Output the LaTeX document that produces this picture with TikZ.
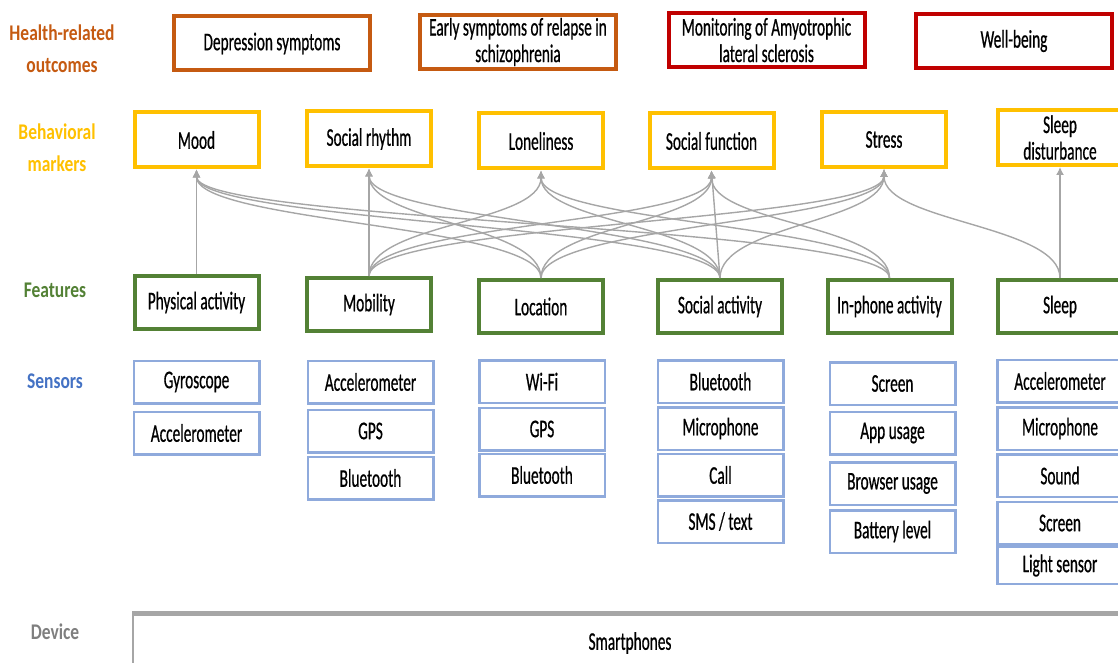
\documentclass[tikz,border=0pt]{standalone}
\usepackage{fontspec}
\usetikzlibrary{arrows.meta}
\newfontfamily\boxfont[FakeStretch=0.6,FakeBold=0.6]{Carlito}
\newfontfamily\tagfont[FakeStretch=0.78]{Carlito}
\definecolor{outorange}{HTML}{C55A11}
\definecolor{outred}{HTML}{C00000}
\definecolor{markgold}{HTML}{FFC000}
\definecolor{featgreen}{HTML}{538135}
\definecolor{sensblue}{HTML}{8FAADC}
\definecolor{senstext}{HTML}{4472C4}
\definecolor{devgray}{HTML}{A6A6A6}
\definecolor{devtext}{HTML}{7F7F7F}
\definecolor{linkgray}{HTML}{A6A6A6}
\tikzset{
 plainbox/.style={draw, inner sep=0pt, align=center, font=\boxfont\fontsize{12.75}{13.25}\selectfont},
 outbox/.style={plainbox, line width=2pt, minimum width=98pt, minimum height=27pt},
 markbox/.style={plainbox, draw=markgold, line width=2pt, minimum width=62pt, minimum height=27.5pt},
 featbox/.style={plainbox, draw=featgreen, line width=2pt, minimum width=62pt, minimum height=26.5pt},
 sensbox/.style={plainbox, draw=sensblue, line width=1.25pt, minimum width=62.75pt, minimum height=21.25pt},
 rowtag/.style={font=\tagfont\bfseries\fontsize{11.2}{16}\selectfont, align=center},
 link/.style={draw=linkgray, line width=0.7pt, -{Latex[length=4pt,width=4pt]}},
}
\begin{document}
\begin{tikzpicture}[x=0.5pt,y=-0.5pt]
 \useasboundingbox (0,0) rectangle (1118,663);
 % row labels
 \node[rowtag, text=outorange] (tagout) at (62,49) {Health-related\\outcomes};
 \node[rowtag, text=markgold] (tagmark) at (57,148) {Behavioral\\markers};
 \node[rowtag, text=featgreen] (tagfeat) at (55,290) {Features};
 \node[rowtag, text=senstext] (tagsens) at (55,381) {Sensors};
 \node[rowtag, text=devtext] (tagdev) at (55,632) {Device};
 % health-related outcomes
 \node[outbox, draw=outorange] (dep) at (272,43.5) {Depression symptoms};
 \node[outbox, draw=outorange] (relapse) at (518,42) {Early symptoms of relapse in\\schizophrenia};
 \node[outbox, draw=outred] (als) at (766.5,40) {Monitoring of Amyotrophic\\lateral sclerosis};
 \node[outbox, draw=outred] (wellb) at (1014,41) {Well-being};
 % behavioral markers
 \node[markbox] (mood) at (196.5,140) {Mood};
 \node[markbox] (rhythm) at (369,139) {Social rhythm};
 \node[markbox] (lonely) at (541,141) {Loneliness};
 \node[markbox] (sfunc) at (711.5,141) {Social function};
 \node[markbox] (stress) at (884,139.5) {Stress};
 \node[markbox] (sdist) at (1060,137.5) {Sleep\\disturbance};
 % features
 \node[featbox] (phys) at (196.5,302.5) {Physical activity};
 \node[featbox] (mob) at (369,304.5) {Mobility};
 \node[featbox] (loc) at (541,306.5) {Location};
 \node[featbox] (sact) at (720,306.5) {Social activity};
 \node[featbox] (inph) at (889.5,306.5) {In-phone activity};
 \node[featbox] (sleep) at (1060,306.5) {Sleep};
 % sensors
 \node[sensbox] (gyro) at (196.5,382) {Gyroscope};
 \node[sensbox] (accA) at (196.5,433) {Accelerometer};
 \node[sensbox] (accB) at (370.5,382) {Accelerometer};
 \node[sensbox] (gpsA) at (370.5,431) {GPS};
 \node[sensbox] (btA) at (370.5,478) {Bluetooth};
 \node[sensbox] (wifi) at (542,381.5) {Wi-Fi};
 \node[sensbox] (gpsB) at (542,429) {GPS};
 \node[sensbox] (btB) at (542,475) {Bluetooth};
 \node[sensbox] (btC) at (720.5,381.5) {Bluetooth};
 \node[sensbox] (micA) at (720.5,428.5) {Microphone};
 \node[sensbox] (call) at (720.5,475) {Call};
 \node[sensbox] (sms) at (720.5,521.5) {SMS / text};
 \node[sensbox] (scrA) at (892.5,383.5) {Screen};
 \node[sensbox] (app) at (892.5,433) {App usage};
 \node[sensbox] (brow) at (892.5,483.5) {Browser usage};
 \node[sensbox] (batt) at (892.5,531.5) {Battery level};
 \node[sensbox] (accC) at (1060,381) {Accelerometer};
 \node[sensbox] (micB) at (1060,428.5) {Microphone};
 \node[sensbox] (sound) at (1060,475.5) {Sound};
 \node[sensbox] (scrB) at (1060,523) {Screen};
 \node[sensbox, minimum height=18.5pt] (light) at (1060,565.5) {Light sensor};
 % device
 \node[plainbox, draw=devgray, line width=1pt, minimum width=497pt, minimum height=29pt] (dev) at (630,643) {Smartphones};
 \draw[devgray, line width=2.5pt] (dev.north west) -- (dev.north east);
 % links features -> markers
 \draw[link] (phys.north) -- (mood.south);
 \draw[link] (mob.north) -- (rhythm.south);
 \draw[link] (sact.north) -- (sfunc.south);
 \draw[link] (sleep.north) -- (sdist.south);
 \draw[link] (mob.north) .. controls +(0,-53) and +(0,53) .. (lonely.south);
 \draw[link] (mob.north) .. controls +(0,-53) and +(0,53) .. (sfunc.south);
 \draw[link] (mob.north) .. controls +(0,-53) and +(0,53) .. (stress.south);
 \draw[link] (loc.north) .. controls +(0,-53) and +(0,53) .. (mood.south);
 \draw[link] (loc.north) .. controls +(0,-53) and +(0,53) .. (rhythm.south);
 \draw[link] (loc.north) .. controls +(0,-53) and +(0,53) .. (sfunc.south);
 \draw[link] (loc.north) .. controls +(0,-53) and +(0,53) .. (stress.south);
 \draw[link] (sact.north) .. controls +(0,-53) and +(0,53) .. (mood.south);
 \draw[link] (sact.north) .. controls +(0,-53) and +(0,53) .. (rhythm.south);
 \draw[link] (sact.north) .. controls +(0,-53) and +(0,53) .. (lonely.south);
 \draw[link] (sact.north) .. controls +(0,-53) and +(0,53) .. (stress.south);
 \draw[link] (inph.north) .. controls +(0,-53) and +(0,53) .. (mood.south);
 \draw[link] (inph.north) .. controls +(0,-53) and +(0,53) .. (lonely.south);
 \draw[link] (inph.north) .. controls +(0,-53) and +(0,53) .. (sfunc.south);
 \draw[link] (sleep.north) .. controls +(0,-53) and +(0,53) .. (stress.south);
\end{tikzpicture}
\end{document}
